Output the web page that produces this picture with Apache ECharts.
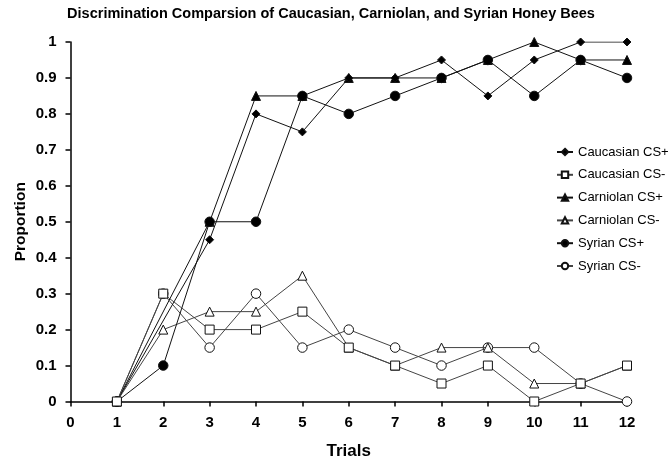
<!DOCTYPE html>
<html>
<head>
<meta charset="utf-8">
<script src="https://cdn.jsdelivr.net/npm/echarts@6/dist/echarts.min.js"></script>
<style>
  html, body { margin: 0; padding: 0; background: #fff; }
  #chart { width: 670px; height: 461px; }
</style>
</head>
<body>
<div id="chart"></div>
<script>
// trials 1..12, proportion of bees responding
const trials = [1, 2, 3, 4, 5, 6, 7, 8, 9, 10, 11, 12];
const caucasianPlus = [0, null, 0.45, 0.8, 0.75, 0.9, 0.9, 0.95, 0.85, 0.95, 1, 1];
const caucasianMinus = [0, 0.3, 0.2, 0.2, 0.25, 0.15, 0.1, 0.05, 0.1, 0, 0.05, 0.1];
const carniolanPlus = [0, null, 0.5, 0.85, 0.85, 0.9, 0.9, 0.9, 0.95, 1, 0.95, 0.95];
const carniolanMinus = [0, 0.2, 0.25, 0.25, 0.35, 0.15, 0.1, 0.15, 0.15, 0.05, 0.05, 0.1];
const syrianPlus = [0, 0.1, 0.5, 0.5, 0.85, 0.8, 0.85, 0.9, 0.95, 0.85, 0.95, 0.9];
const syrianMinus = [0, 0.3, 0.15, 0.3, 0.15, 0.2, 0.15, 0.1, 0.15, 0.15, 0.05, 0];

const FONT = "Liberation Sans, Arial, sans-serif";

function pairs(vals) {
  return trials.map((t, i) => [t, vals[i]]);
}

function line(name, vals, symbol, size, filled, z) {
  return {
    name: name,
    type: "line",
    data: pairs(vals),
    connectNulls: true,
    symbol: symbol,
    symbolSize: size,
    showAllSymbol: true,
    z: z,
    lineStyle: { color: filled ? "#111" : "#444", width: 1 },
    itemStyle: {
      color: filled ? "#000" : "#fff",
      borderColor: "#111",
      borderWidth: 1,
      opacity: 1
    },
    emphasis: { disabled: true },
    animation: false
  };
}

const chart = echarts.init(document.getElementById("chart"));
chart.setOption({
  backgroundColor: "#fff",
  animation: false,
  graphic: [
    {
      type: "text",
      x: 331,
      y: 14,
      style: {
        text: "Discrimination Comparsion of Caucasian, Carniolan, and Syrian Honey Bees",
        font: "bold 14.5px " + FONT,
        fill: "#000",
        textAlign: "center",
        textVerticalAlign: "middle"
      }
    }
  ],
  legend: {
    orient: "vertical",
    left: 556,
    top: 145,
    padding: 0,
    itemWidth: 16,
    itemHeight: 8,
    itemGap: 8.8,
    textStyle: { fontFamily: FONT, fontSize: 13, color: "#000", lineHeight: 14 },
    data: ["Caucasian CS+", "Caucasian CS-", "Carniolan CS+", "Carniolan CS-", "Syrian CS+", "Syrian CS-"]
  },
  grid: {
    left: 70.5,
    right: 43,
    top: 42,
    bottom: 59.5,
    containLabel: false,
    outerBoundsMode: "none"
  },
  xAxis: {
    type: "value",
    min: 0,
    max: 12,
    interval: 1,
    name: "Trials",
    nameLocation: "middle",
    nameGap: 41,
    nameTextStyle: { fontFamily: FONT, fontSize: 17, fontWeight: "bold", color: "#000" },
    axisLine: { onZero: false, lineStyle: { color: "#000", width: 1.5 } },
    axisTick: { show: true, inside: false, length: 5, lineStyle: { color: "#000", width: 1.5 } },
    axisLabel: { fontFamily: FONT, fontSize: 15, fontWeight: "bold", color: "#000", margin: 14 },
    splitLine: { show: false }
  },
  yAxis: {
    type: "value",
    min: 0,
    max: 1,
    interval: 0.1,
    name: "Proportion",
    nameLocation: "middle",
    nameGap: 42,
    nameMoveOverlap: false,
    nameTextStyle: { fontFamily: FONT, fontSize: 15.5, fontWeight: "bold", color: "#000" },
    axisLine: { show: true, lineStyle: { color: "#000", width: 1.5 } },
    axisTick: { show: true, inside: false, length: 5, lineStyle: { color: "#000", width: 1.5 } },
    axisLabel: {
      fontFamily: FONT, fontSize: 15, fontWeight: "bold", color: "#000", margin: 14,
      formatter: v => String(Math.round(v * 10) / 10)
    },
    splitLine: { show: false }
  },
  series: [
    line("Caucasian CS+", caucasianPlus, "diamond", 8, true, 3),
    line("Caucasian CS-", caucasianMinus, "rect", 9, false, 4),
    line("Carniolan CS+", carniolanPlus, "triangle", 9, true, 2),
    line("Carniolan CS-", carniolanMinus, "triangle", 9, false, 3),
    line("Syrian CS+", syrianPlus, "circle", 9.5, true, 3),
    line("Syrian CS-", syrianMinus, "circle", 9.5, false, 2)
  ]
});
</script>
</body>
</html>
